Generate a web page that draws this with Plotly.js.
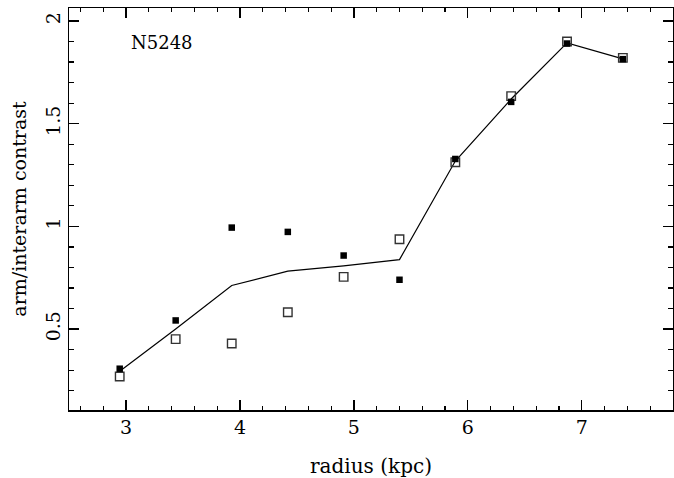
<!DOCTYPE html>
<html>
<head>
<meta charset="utf-8">
<script src="https://cdn.plot.ly/plotly-3.0.1.min.js"></script>
<style>html,body{margin:0;padding:0;background:#fff;}#chart{width:674px;height:478px;}</style>
</head>
<body>
<div id="chart"></div>
<script>
var radius = [2.945, 3.436, 3.928, 4.42, 4.91, 5.40, 5.89, 6.38, 6.87, 7.36];
var contrastFilled = [0.307, 0.542, 0.994, 0.973, 0.858, 0.740, 1.328, 1.606, 1.890, 1.814];
var contrastOpen = [0.269, 0.451, 0.430, 0.582, 0.754, 0.937, 1.312, 1.634, 1.900, 1.820];
var contrastMean = [0.295, 0.500, 0.712, 0.782, 0.808, 0.838, 1.318, 1.620, 1.893, 1.815];
var galaxyLabel = 'N5248';
var xTitle = 'radius (kpc)';
var yTitle = 'arm/interarm contrast';

var fontFam = 'DejaVu Serif, serif';

var traces = [
  {x: radius, y: contrastMean, type: 'scatter', mode: 'lines',
   line: {color: '#000', width: 1.2}, hoverinfo: 'skip'},
  {x: radius, y: contrastOpen, type: 'scatter', mode: 'markers',
   marker: {symbol: 'square-open', size: 8.5, color: '#333', line: {width: 1.4, color: '#333'}}},
  {x: radius, y: contrastFilled, type: 'scatter', mode: 'markers',
   marker: {symbol: 'square', size: 6.5, color: '#000', line: {width: 0}}}
];

var axisCommon = {
  showgrid: false, zeroline: false, showline: true, linecolor: '#000', linewidth: 1.5,
  mirror: 'ticks', ticks: 'inside', ticklen: 10, tickwidth: 1.2, tickcolor: '#000',
  tickfont: {family: fontFam, size: 19, color: '#000'}
};

var layout = {
  width: 674, height: 478,
  margin: {l: 69, r: 1, t: 8, b: 68},
  paper_bgcolor: '#fff', plot_bgcolor: '#fff',
  showlegend: false,
  xaxis: Object.assign({}, axisCommon, {
    range: [2.5, 7.8], dtick: 1, tick0: 0,
    minor: {dtick: 0.2, ticks: 'inside', ticklen: 4, tickwidth: 1.2, tickcolor: '#000'},
    title: {text: xTitle, font: {family: fontFam, size: 20, color: '#000'}, standoff: 24}
  }),
  yaxis: Object.assign({}, axisCommon, {
    range: [0.106, 2.063], dtick: 0.5, tick0: 0, tickangle: -90,
    minor: {dtick: 0.1, ticks: 'inside', ticklen: 5, tickwidth: 1.2, tickcolor: '#000'},
    title: {text: yTitle, font: {family: fontFam, size: 19, color: '#000'}, standoff: 10}
  }),
  annotations: [{
    text: galaxyLabel, xref: 'paper', yref: 'paper', x: 0.1, y: 0.914,
    xanchor: 'left', yanchor: 'middle', showarrow: false,
    font: {family: fontFam, size: 18, color: '#000'}
  }]
};

Plotly.newPlot('chart', traces, layout, {displayModeBar: false, staticPlot: true});
</script>
</body>
</html>
